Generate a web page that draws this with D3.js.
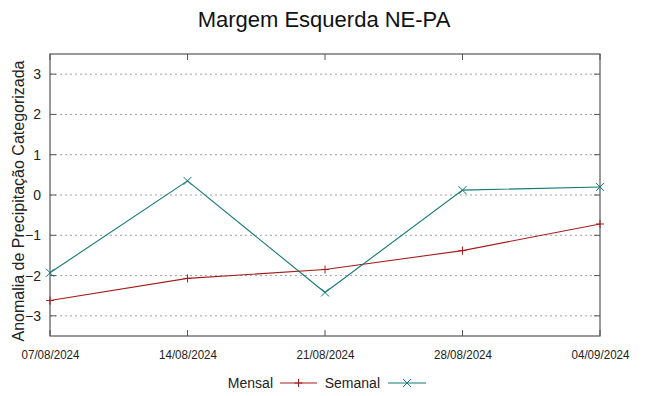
<!DOCTYPE html>
<html>
<head>
<meta charset="utf-8">
<script src="https://cdn.jsdelivr.net/npm/d3@7"></script>
<style>
  body { margin: 0; background: #fff; }
  svg { font-family: "Liberation Sans", Arial, sans-serif; }
</style>
</head>
<body>
<div id="chart"></div>
<script>
// data
const dates = ["07/08/2024", "14/08/2024", "21/08/2024", "28/08/2024", "04/09/2024"];
const mensal = [-2.62, -2.07, -1.85, -1.38, -0.72];
const semanal = [-1.93, 0.35, -2.42, 0.12, 0.20];
const yTicks = [-3, -2, -1, 0, 1, 2, 3];

const W = 649, H = 396;
const margin = {top: 54, right: 49, bottom: 60, left: 50},
      width = W - margin.left - margin.right,
      height = H - margin.top - margin.bottom;

const svg = d3.select("#chart")
    .append("svg")
    .attr("width", W)
    .attr("height", H);

const g = svg.append("g")
    .attr("transform", `translate(${margin.left}, ${margin.top})`);

const parse = d3.timeParse("%d/%m/%Y");
const x = d3.scaleTime()
    .domain([parse(dates[0]), parse(dates[dates.length - 1])])
    .range([0, width]);
const y = d3.scaleLinear()
    .domain([-3.5, 3.5])
    .range([height, 0]);

// grid
g.append("g")
    .selectAll("line")
    .data(yTicks)
    .join("line")
      .attr("x1", 0).attr("x2", width)
      .attr("y1", d => y(d)).attr("y2", d => y(d))
      .attr("stroke", "#a0a0a0")
      .attr("stroke-width", 1)
      .attr("stroke-dasharray", "2,3");

// y axis
const yAxis = g.append("g")
    .call(d3.axisLeft(y).tickValues(yTicks).tickSize(0).tickPadding(9).tickFormat(d3.format("d")));
yAxis.select(".domain").remove();
yAxis.selectAll("text").attr("font-size", 14).attr("fill", "#222")
    .attr("font-family", "Liberation Sans, Arial, sans-serif");

// inner ticks (left and right)
g.append("g").selectAll("line").data(yTicks).join("line")
    .attr("x1", 0).attr("x2", 6).attr("y1", d => y(d)).attr("y2", d => y(d))
    .attr("stroke", "#555");
g.append("g").selectAll("line").data(yTicks).join("line")
    .attr("x1", width - 6).attr("x2", width).attr("y1", d => y(d)).attr("y2", d => y(d))
    .attr("stroke", "#555");

// x axis - narrow labels
const xAxis = g.append("g")
    .attr("transform", `translate(0, ${height})`)
    .call(d3.axisBottom(x).tickValues(dates.map(parse)).tickSize(0).tickPadding(13)
      .tickFormat(d3.timeFormat("%d/%m/%Y")));
xAxis.select(".domain").remove();
xAxis.selectAll("text").attr("font-size", 13.5).attr("fill", "#222")
    .attr("textLength", 58).attr("lengthAdjust", "spacingAndGlyphs");

g.append("g").selectAll("line").data(dates).join("line")
    .attr("x1", d => x(parse(d))).attr("x2", d => x(parse(d)))
    .attr("y1", height - 6).attr("y2", height)
    .attr("stroke", "#555");
g.append("g").selectAll("line").data(dates).join("line")
    .attr("x1", d => x(parse(d))).attr("x2", d => x(parse(d)))
    .attr("y1", 0).attr("y2", 6)
    .attr("stroke", "#555");

// frame
g.append("rect")
    .attr("width", width).attr("height", height)
    .attr("fill", "none").attr("stroke", "#555").attr("stroke-width", 1.2);

// series
const series = [
  {name: "Mensal", values: mensal, color: "#a51d1d", marker: "plus"},
  {name: "Semanal", values: semanal, color: "#137878", marker: "cross"}
];

const line = d3.line()
    .x((d, i) => x(parse(dates[i])))
    .y(d => y(d));

function marker(sel, type, color) {
  const s = 4;
  if (type === "plus") {
    sel.append("path").attr("d", `M${-s},0H${s}M0,${-s}V${s}`);
  } else {
    sel.append("path").attr("d", `M${-s},${-s}L${s},${s}M${-s},${s}L${s},${-s}`);
  }
  sel.selectAll("path").attr("stroke", color).attr("stroke-width", 1).attr("fill", "none");
}

series.forEach(sr => {
  g.append("path")
      .datum(sr.values)
      .attr("d", line)
      .attr("fill", "none")
      .attr("stroke", sr.color)
      .attr("stroke-width", 1.1);
  g.append("g").selectAll("g")
      .data(sr.values)
      .join("g")
        .attr("transform", (d, i) => `translate(${x(parse(dates[i]))}, ${y(d)})`)
        .each(function() { marker(d3.select(this), sr.marker, sr.color); });
});

// title
svg.append("text")
    .attr("x", 324).attr("y", 27)
    .attr("text-anchor", "middle")
    .attr("font-size", 22)
    .attr("fill", "#111")
    .text("Margem Esquerda NE-PA");

// y label
svg.append("text")
    .attr("transform", `translate(24, 201) rotate(-90)`)
    .attr("text-anchor", "middle")
    .attr("font-size", 16)
    .attr("fill", "#222")
    .text("Anomalia de Precipitação Categorizada");

// legend
const legend = svg.append("g").attr("transform", "translate(0, 383)");
const legendItems = [
  {textEnd: 273, x1: 280, x2: 317},
  {textEnd: 380, x1: 388, x2: 426}
];
series.forEach((sr, i) => {
  const it = legendItems[i];
  legend.append("text")
      .attr("x", it.textEnd).attr("y", 5)
      .attr("text-anchor", "end")
      .attr("font-size", 14)
      .attr("fill", "#222")
      .text(sr.name);
  legend.append("line")
      .attr("x1", it.x1).attr("x2", it.x2)
      .attr("stroke", sr.color).attr("stroke-width", 1.1);
  const m = legend.append("g").attr("transform", `translate(${(it.x1 + it.x2) / 2}, 0)`);
  marker(m, sr.marker, sr.color);
});
</script>
</body>
</html>
